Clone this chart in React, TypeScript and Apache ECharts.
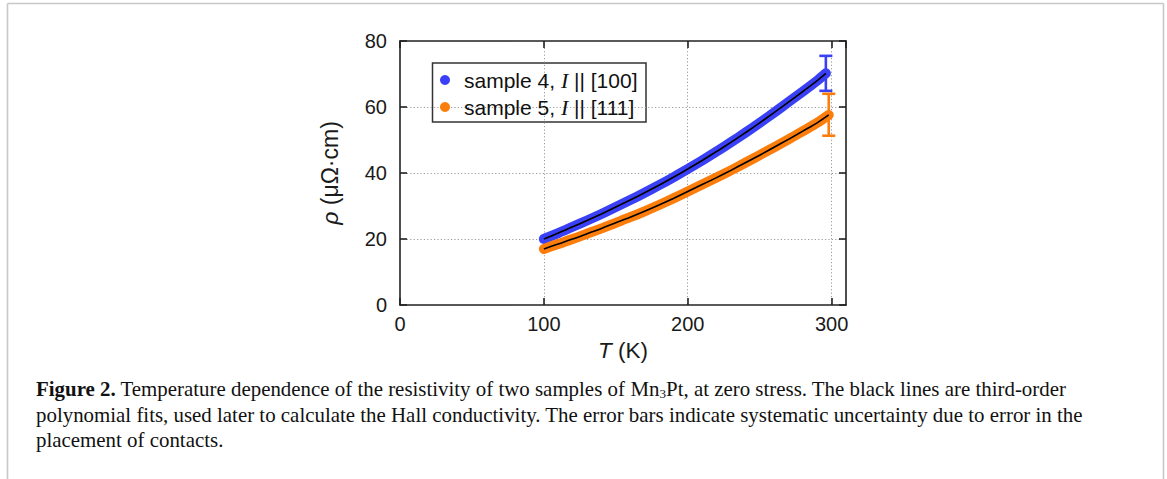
import React, { useEffect, useRef } from "react";
import * as echarts from "echarts";

// ---- data ----
const temps4 = [100, 110, 120, 130, 140, 150, 160, 170, 180, 190, 200, 210, 220, 230, 240, 250, 260, 270, 280, 290, 296];
const rho4 = [20.0, 21.8, 23.7, 25.6, 27.6, 29.7, 31.8, 34.0, 36.3, 38.7, 41.2, 43.8, 46.5, 49.3, 52.2, 55.2, 58.3, 61.5, 64.7, 68.0, 70.2];
const temps5 = [100, 110, 120, 130, 140, 150, 160, 170, 180, 190, 200, 210, 220, 230, 240, 250, 260, 270, 280, 290, 298];
const rho5 = [17.0, 18.5, 20.0, 21.6, 23.2, 24.9, 26.6, 28.4, 30.3, 32.3, 34.4, 36.5, 38.6, 40.8, 43.1, 45.4, 47.8, 50.2, 52.7, 55.2, 57.6];
// error bars: [T, low, high]
const err4 = [296, 64.9, 75.5];
const err5 = [298, 51.3, 64.0];

const xMin = 0;
const xMax = 310;
const xInterval = 100;
const yMin = 0;
const yMax = 80;
const yInterval = 20;

const seriesNames = ["sample 4", "sample 5"];
const legendLabels = [
  ["sample 4, ", "I", " || [100]"],
  ["sample 5, ", "I", " || [111]"],
];
const captionLines = [
  ["Figure 2.", " Temperature dependence of the resistivity of two samples of ", "Mn", "3", "Pt, at zero stress. The black lines are third-order"],
  ["", "polynomial fits, used later to calculate the Hall conductivity. The error bars indicate systematic uncertainty due to error in the"],
  ["", "placement of contacts."],
];

const BLUE = "#3a40f6";
const ORANGE = "#fb7d0c";
const SANS = "'Liberation Sans', Arial, Helvetica, sans-serif";
const SERIF = "'Liberation Serif', 'Times New Roman', serif";

function pairs(xs: number[], ys: number[]) {
  return xs.map((x, i) => [x, ys[i]]);
}

export default function App() {
  const ref = useRef<HTMLDivElement>(null);
  useEffect(() => {
    if (!ref.current) return;
    const chart = echarts.init(ref.current, undefined, { renderer: "svg" });

    const errRender = (color: string) => (params: any, api: any) => {
      const x = api.value(0);
      const lo = api.coord([x, api.value(1)]);
      const hi = api.coord([x, api.value(2)]);
      const hw = 6.5;
      const st = { stroke: color, lineWidth: 2.6 };
      return {
        type: "group",
        children: [
          { type: "line", shape: { x1: lo[0], y1: lo[1], x2: hi[0], y2: hi[1] }, style: st },
          { type: "line", shape: { x1: lo[0] - hw, y1: lo[1], x2: lo[0] + hw, y2: lo[1] }, style: st },
          { type: "line", shape: { x1: hi[0] - hw, y1: hi[1], x2: hi[0] + hw, y2: hi[1] }, style: st },
        ],
      };
    };

    const axisCommon = {
      axisLine: { show: true, onZero: false, lineStyle: { color: "#222", width: 1.6 } },
      axisTick: { show: true, inside: true, length: 7, lineStyle: { color: "#222", width: 1.6 } },
    };
    const gridLine = {
      show: true,
      showMinLine: false,
      showMaxLine: false,
      lineStyle: { color: "#9a9a9a", width: 1, type: [1.2, 2.2] },
    };

    const captionGraphics: any[] = captionLines.map((parts, i) => {
      let txt = "";
      if (parts[0]) txt += "{b|" + parts[0] + "}";
      if (parts.length === 5) {
        txt += "{r|" + parts[1] + "}{r|" + parts[2] + "}{s|" + parts[3] + "}{r|" + parts[4] + "}";
      } else {
        txt += "{r|" + parts[1] + "}";
      }
      return {
        type: "text",
        left: 36,
        top: 378.5 + i * 25.5,
        style: {
          text: txt,
          fill: "#111",
          rich: {
            b: { fontFamily: SERIF, fontWeight: "bold", fontSize: 20.9, fill: "#111", lineHeight: 22, verticalAlign: "bottom" },
            r: { fontFamily: SERIF, fontSize: 20.9, fill: "#111", lineHeight: 22, verticalAlign: "bottom" },
            s: { fontFamily: SERIF, fontSize: 13, fill: "#111", lineHeight: 12, verticalAlign: "bottom" },
          },
        },
      };
    });

    const option: any = {
      animation: false,
      backgroundColor: "#ffffff",
      grid: {
        left: 400,
        top: 41,
        right: 1167 - 846,
        bottom: 479 - 305,
        show: false,
        containLabel: false,
      },
      xAxis: [
        {
          type: "value",
          min: xMin,
          max: xMax,
          interval: xInterval,
          position: "bottom",
          ...axisCommon,
          axisLabel: {
            margin: 9,
            fontFamily: SANS,
            fontSize: 20,
            color: "#1a1a1a",
            showMaxLabel: false,
            formatter: (v: number) => (v % xInterval === 0 ? String(v) : ""),
          },
          splitLine: gridLine,
          name: "{i|T}{a| (K)}",
          nameLocation: "middle",
          nameGap: 32,
          nameTextStyle: {
            rich: {
              i: { fontFamily: SANS, fontStyle: "italic", fontSize: 22.5, color: "#1a1a1a" },
              a: { fontFamily: SANS, fontSize: 22.5, color: "#1a1a1a" },
            },
          },
        },
        {
          type: "value",
          min: xMin,
          max: xMax,
          interval: xInterval,
          position: "top",
          ...axisCommon,
          axisLabel: { show: false },
          splitLine: { show: false },
        },
      ],
      yAxis: [
        {
          type: "value",
          min: yMin,
          max: yMax,
          interval: yInterval,
          position: "left",
          ...axisCommon,
          axisLabel: { margin: 13, fontFamily: SANS, fontSize: 20, color: "#1a1a1a" },
          splitLine: gridLine,
          name: "{i|ρ}{a| (μΩ·cm)}",
          nameLocation: "middle",
          nameGap: 59,
          nameTextStyle: {
            rich: {
              i: { fontFamily: SANS, fontStyle: "italic", fontSize: 23, color: "#1a1a1a" },
              a: { fontFamily: SANS, fontSize: 23, color: "#1a1a1a" },
            },
          },
        },
        {
          type: "value",
          min: yMin,
          max: yMax,
          interval: yInterval,
          position: "right",
          ...axisCommon,
          axisLabel: { show: false },
          splitLine: { show: false },
        },
      ],
      legend: {
        data: seriesNames.map((n) => ({ name: n, icon: "circle" })),
        orient: "vertical",
        left: 440,
        top: 69,
        itemWidth: 10,
        itemHeight: 10,
        itemGap: 5,
        padding: 0,
        selectedMode: false,
        formatter: (name: string) => {
          const idx = seriesNames.indexOf(name);
          const l = legendLabels[idx];
          return "{a|" + l[0] + "}{i|" + l[1] + "}{b|" + l[2] + "}";
        },
        textStyle: {
          rich: {
            a: { fontFamily: SANS, fontSize: 21, color: "#111", padding: [0, 0, 0, 9], lineHeight: 22 },
            i: { fontFamily: SERIF, fontStyle: "italic", fontSize: 22, color: "#111", lineHeight: 22 },
            b: { fontFamily: SANS, fontSize: 21, color: "#111", lineHeight: 22 },
          },
        },
      },
      graphic: [
        {
          type: "rect",
          shape: { x: 432.5, y: 63, width: 213.5, height: 59 },
          style: { fill: "#fff", stroke: "#333", lineWidth: 1.5 },
          z: 0,
          silent: true,
        },
        { type: "line", shape: { x1: 7.5, y1: 3.5, x2: 1163.5, y2: 3.5 }, style: { stroke: "#c8c8c8", lineWidth: 1.6 } },
        { type: "line", shape: { x1: 7.5, y1: 3.5, x2: 7.5, y2: 479 }, style: { stroke: "#c8c8c8", lineWidth: 1.6 } },
        { type: "line", shape: { x1: 1163.5, y1: 3.5, x2: 1163.5, y2: 479 }, style: { stroke: "#c8c8c8", lineWidth: 1.6 } },
        ...captionGraphics,
      ],
      series: [
        {
          name: seriesNames[0],
          type: "line",
          xAxisIndex: 0,
          yAxisIndex: 0,
          data: pairs(temps4, rho4),
          symbol: "none",
          smooth: 0.3,
          itemStyle: { color: BLUE },
          lineStyle: { color: BLUE, width: 10, cap: "round", join: "round" },
          z: 2,
        },
        {
          name: seriesNames[1],
          type: "line",
          xAxisIndex: 0,
          yAxisIndex: 0,
          data: pairs(temps5, rho5),
          symbol: "none",
          smooth: 0.3,
          itemStyle: { color: ORANGE },
          lineStyle: { color: ORANGE, width: 10, cap: "round", join: "round" },
          z: 2,
        },
        {
          name: "err4",
          type: "custom",
          xAxisIndex: 0,
          yAxisIndex: 0,
          data: [err4],
          encode: { x: 0, y: [1, 2] },
          renderItem: errRender(BLUE),
          z: 3,
        },
        {
          name: "err5",
          type: "custom",
          xAxisIndex: 0,
          yAxisIndex: 0,
          data: [err5],
          encode: { x: 0, y: [1, 2] },
          renderItem: errRender(ORANGE),
          z: 3,
        },
        {
          name: "fit4",
          type: "line",
          xAxisIndex: 0,
          yAxisIndex: 0,
          data: pairs(temps4, rho4),
          symbol: "none",
          smooth: 0.3,
          itemStyle: { color: "#000" },
          lineStyle: { color: "#000", width: 1.6 },
          z: 4,
        },
        {
          name: "fit5",
          type: "line",
          xAxisIndex: 0,
          yAxisIndex: 0,
          data: pairs(temps5, rho5),
          symbol: "none",
          smooth: 0.3,
          itemStyle: { color: "#000" },
          lineStyle: { color: "#000", width: 1.6 },
          z: 4,
        },
      ],
    };
    chart.setOption(option);
    return () => chart.dispose();
  }, []);

  return (
    <div
      ref={ref}
      style={{ position: "fixed", left: 0, top: 0, width: 1167, height: 479, background: "#fff" }}
    />
  );
}
